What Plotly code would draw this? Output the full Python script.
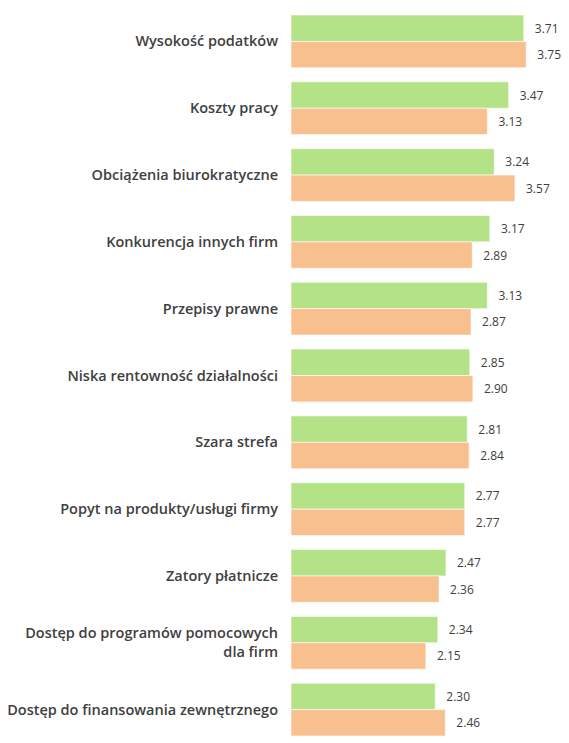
import plotly.graph_objects as go

categories = [
    "Wysokość podatków",
    "Koszty pracy",
    "Obciążenia biurokratyczne",
    "Konkurencja innych firm",
    "Przepisy prawne",
    "Niska rentowność działalności",
    "Szara strefa",
    "Popyt na produkty/usługi firmy",
    "Zatory płatnicze",
    "Dostęp do programów pomocowych<br>dla firm",
    "Dostęp do finansowania zewnętrznego",
]
series_a = [3.71, 3.47, 3.24, 3.17, 3.13, 2.85, 2.81, 2.77, 2.47, 2.34, 2.30]
series_b = [3.75, 3.13, 3.57, 2.89, 2.87, 2.90, 2.84, 2.77, 2.36, 2.15, 2.46]

GREEN = "#b3e287"
ORANGE = "#f9c08f"
TEXT = "#404040"

fig = go.Figure()
fig.add_trace(go.Bar(
    y=categories, x=series_a, orientation="h", name="A",
    marker=dict(color=GREEN, line=dict(color="rgba(255,255,255,0.6)", width=1)),
    text=[f"{v:.2f}" for v in series_a], texttemplate="\u2007\u200a%{text}",
    textposition="outside", textfont=dict(size=12, color=TEXT, family="Open Sans"),
    cliponaxis=False,
))
fig.add_trace(go.Bar(
    y=categories, x=series_b, orientation="h", name="B",
    marker=dict(color=ORANGE, line=dict(color="rgba(255,255,255,0.6)", width=1)),
    text=[f"{v:.2f}" for v in series_b], texttemplate="\u2007\u200a%{text}",
    textposition="outside", textfont=dict(size=12, color=TEXT, family="Open Sans"),
    cliponaxis=False,
))

fig.update_layout(
    width=561, height=735,
    margin=dict(l=283, r=2, t=0, b=0, autoexpand=False),
    barmode="group", bargap=0.21, bargroupgap=0,
    showlegend=False,
    plot_bgcolor="white", paper_bgcolor="white",
)
fig.update_xaxes(range=[0, 4.40], visible=False, automargin=False)
fig.update_yaxes(
    autorange="reversed", showgrid=False, zeroline=False, showline=False,
    ticks="", ticklabelstandoff=12, automargin=False,
    tickfont=dict(size=14.5, color=TEXT, family="Open Sans", weight=600),
)

fig.write_html("out.html")
